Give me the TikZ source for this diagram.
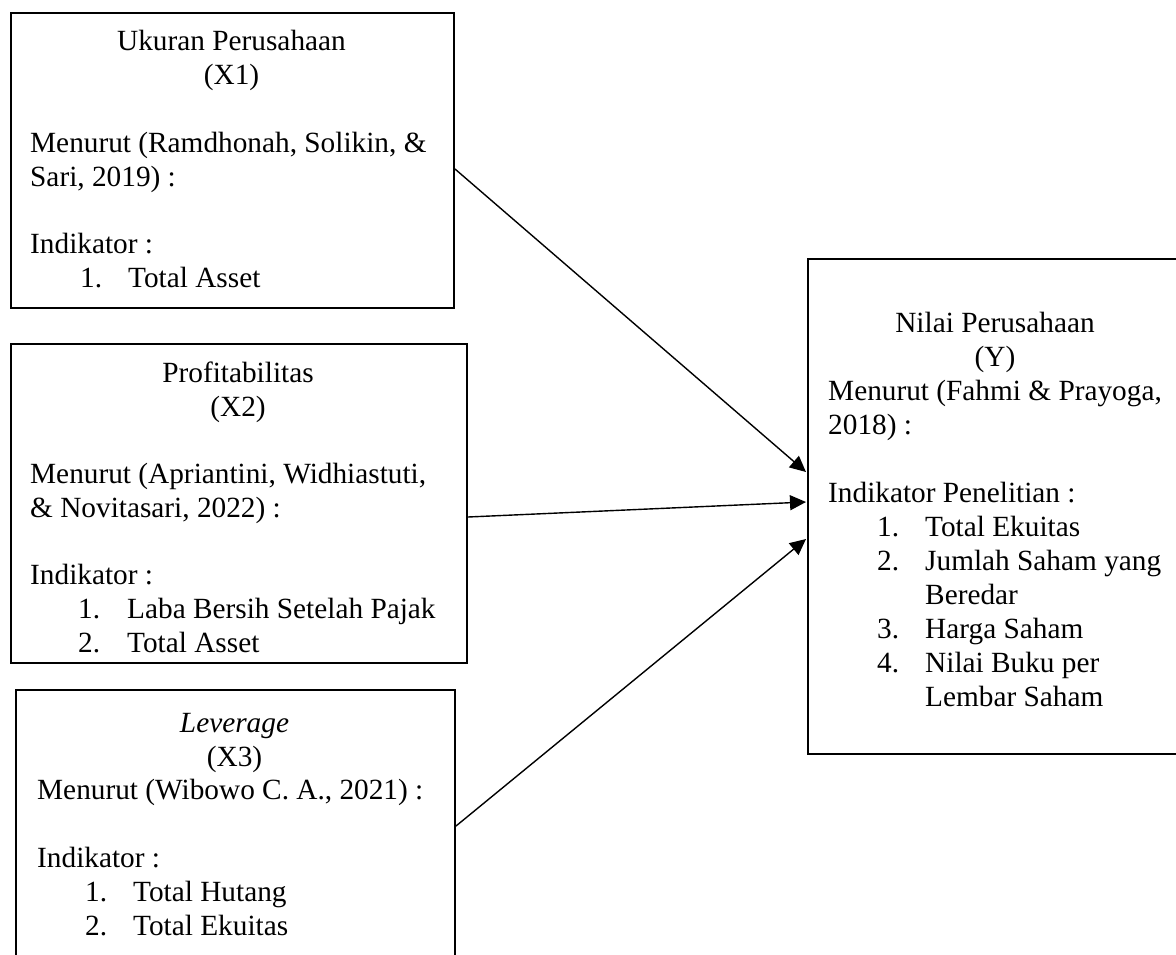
\documentclass[tikz,border=0pt]{standalone}
\usepackage{fontspec}
\setmainfont{Liberation Serif}
\usetikzlibrary{calc,arrows.meta}
\begin{document}
\begin{tikzpicture}[x=1pt,y=-1pt,
  box/.style={draw, line width=2pt, inner sep=0pt, anchor=north west},
  txt/.style={inner sep=0pt, font=\fontsize{29.3}{33.8}\selectfont},
  lt/.style={txt, anchor=base west},
  ct/.style={txt, anchor=base},
  conn/.style={line width=1.4pt, -{Triangle[length=16pt,width=15pt]}}]
\clip (0,0) rectangle (1176,954);
% boxes
\node[box, minimum width=443pt, minimum height=295pt] (x1) at (10,12) {};
\node[box, minimum width=456pt, minimum height=319pt] (x2) at (10,343) {};
\node[box, minimum width=439pt, minimum height=300pt] (x3) at (15,689) {};
\node[box, minimum width=380pt, minimum height=495pt] (y) at (807,258) {};
% X1 text
\node[ct] (x1h) at (231.5,50) {Ukuran Perusahaan};
\node[ct] (x1v) at (231.5,84) {(X1)};
\node[lt] (x1m) at (30,152) {Menurut (Ramdhonah, Solikin, \&};
\node[lt] (x1m2) at (30,186) {Sari, 2019) :};
\node[lt] (x1i) at (30,253) {Indikator :};
\node[lt] (x1n1) at (80,287) {1.};
\node[lt] (x1l1) at (128,287) {Total Asset};
% X2 text
\node[ct] (x2h) at (238,382) {Profitabilitas};
\node[ct] (x2v) at (238,416) {(X2)};
\node[lt] (x2m) at (30,483) {Menurut (Apriantini, Widhiastuti,};
\node[lt] (x2m2) at (30,517) {\& Novitasari, 2022) :};
\node[lt] (x2i) at (30,584) {Indikator :};
\node[lt] (x2n1) at (78,618) {1.};
\node[lt] (x2l1) at (127,618) {Laba Bersih Setelah Pajak};
\node[lt] (x2n2) at (78,652) {2.};
\node[lt] (x2l2) at (127,652) {Total Asset};
% X3 text
\node[ct] (x3h) at (234.5,732) {\itshape Leverage};
\node[ct] (x3v) at (234.5,766) {(X3)};
\node[lt] (x3m) at (37,799) {Menurut (Wibowo C. A., 2021) :};
\node[lt] (x3i) at (37,867) {Indikator :};
\node[lt] (x3n1) at (85,901) {1.};
\node[lt] (x3l1) at (133,901) {Total Hutang};
\node[lt] (x3n2) at (85,935) {2.};
\node[lt] (x3l2) at (133,935) {Total Ekuitas};
% Y text
\node[ct] (yh) at (995,332) {Nilai Perusahaan};
\node[ct] (yv) at (995,366) {(Y)};
\node[lt] (ym) at (828,400) {Menurut (Fahmi \& Prayoga,};
\node[lt] (ym2) at (828,434) {2018) :};
\node[lt] (yi) at (828,502) {Indikator Penelitian :};
\node[lt] (yn1) at (877,536) {1.};
\node[lt] (yl1) at (925,536) {Total Ekuitas};
\node[lt] (yn2) at (877,570) {2.};
\node[lt] (yl2) at (925,570) {Jumlah Saham yang};
\node[lt] (yl2b) at (925,604) {Beredar};
\node[lt] (yn3) at (877,638) {3.};
\node[lt] (yl3) at (925,638) {Harga Saham};
\node[lt] (yn4) at (877,672) {4.};
\node[lt] (yl4) at (925,672) {Nilai Buku per};
\node[lt] (yl4b) at (925,706) {Lembar Saham};
% connectors
\draw[conn] ($(x1.north east)+(0,157)$) -- ($(y.north west)+(-1,214)$);
\draw[conn] ($(x2.north east)+(0,174)$) -- ($(y.north west)+(-1,244)$);
\draw[conn] ($(x3.north east)+(0,137)$) -- ($(y.north west)+(-1,281)$);
\end{tikzpicture}
\end{document}
